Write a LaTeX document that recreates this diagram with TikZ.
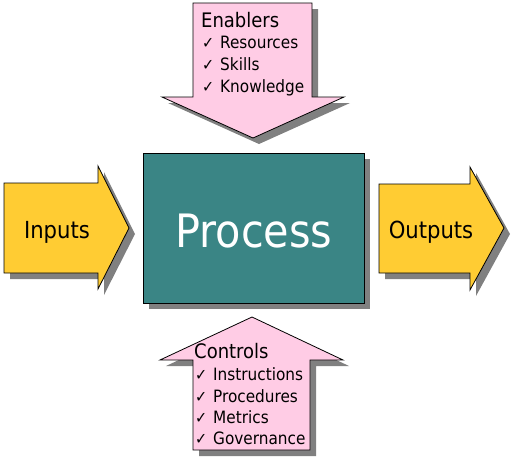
\documentclass[tikz,border=0pt]{standalone}
\usepackage{fontspec}
\setmainfont{DejaVuSansCondensed.ttf}
\definecolor{pinkfill}{HTML}{FFCCE5}
\definecolor{yellowfill}{HTML}{FFCC33}
\definecolor{tealfill}{HTML}{3A8585}
\definecolor{shadowgrey}{HTML}{808080}
\newcommand{\chkmark}{\makebox[18pt][l]{\fontsize{16}{16}\selectfont ✓}}
\begin{document}
\begin{tikzpicture}[x=1pt,y=-1pt,
  outlined/.style={draw=black,line width=0.8pt,line join=miter},
  shadowfill/.style={fill=shadowgrey,draw=none},
  txt/.style={inner sep=0pt,anchor=base west},
  title/.style={txt,font=\fontsize{20}{20}\selectfont},
  item/.style={txt,font=\fontsize{17}{17}\selectfont},
  big/.style={inner sep=0pt,anchor=base,font=\fontsize{23.5}{23.5}\selectfont}]
\useasboundingbox (0,0) rectangle (517,464);
% shadows
\begin{scope}[shift={(6,6)}]
  \fill[shadowfill] (143,153) rectangle (364,303);
  \fill[shadowfill] (193,3) -- (312,3) -- (312,97) -- (344,97) -- (253,138) -- (162,97) -- (193,97) -- cycle;
  \fill[shadowfill] (252,317) -- (343,360) -- (310,360) -- (310,450) -- (193,450) -- (193,360) -- (160,360) -- cycle;
  \fill[shadowfill] (4,183) -- (98,183) -- (98,166) -- (129,228) -- (98,289) -- (98,273) -- (4,273) -- cycle;
  \fill[shadowfill] (379,184) -- (470,184) -- (470,167) -- (504,228) -- (470,290) -- (470,273) -- (379,273) -- cycle;
\end{scope}
% shapes
\draw[outlined,fill=tealfill] (143,153) rectangle (364,303);
\draw[outlined,fill=pinkfill] (193,3) -- (312,3) -- (312,97) -- (344,97) -- (253,138) -- (162,97) -- (193,97) -- cycle;
\draw[outlined,fill=pinkfill] (252,317) -- (343,360) -- (310,360) -- (310,450) -- (193,450) -- (193,360) -- (160,360) -- cycle;
\draw[outlined,fill=yellowfill] (4,183) -- (98,183) -- (98,166) -- (129,228) -- (98,289) -- (98,273) -- (4,273) -- cycle;
\draw[outlined,fill=yellowfill] (379,184) -- (470,184) -- (470,167) -- (504,228) -- (470,290) -- (470,273) -- (379,273) -- cycle;
% texts
\node[inner sep=0pt,anchor=base,text=white,font=\fontsize{46}{46}\selectfont] (process) at (254,247) {Process};
\node[big] (inputs) at (57,238) {Inputs};
\node[big] (outputs) at (431,238) {Outputs};
\node[title] (enablers) at (201,27) {Enablers};
\node[item] (e1) at (202,48) {\chkmark Resources};
\node[item] (e2) at (202,70) {\chkmark Skills};
\node[item] (e3) at (202,92) {\chkmark Knowledge};
\node[title] (controls) at (194,358) {Controls};
\node[item] (c1) at (195,380) {\chkmark Instructions};
\node[item] (c2) at (195,402) {\chkmark Procedures};
\node[item] (c3) at (195,423) {\chkmark Metrics};
\node[item] (c4) at (195,444) {\chkmark Governance};
\end{tikzpicture}
\end{document}
